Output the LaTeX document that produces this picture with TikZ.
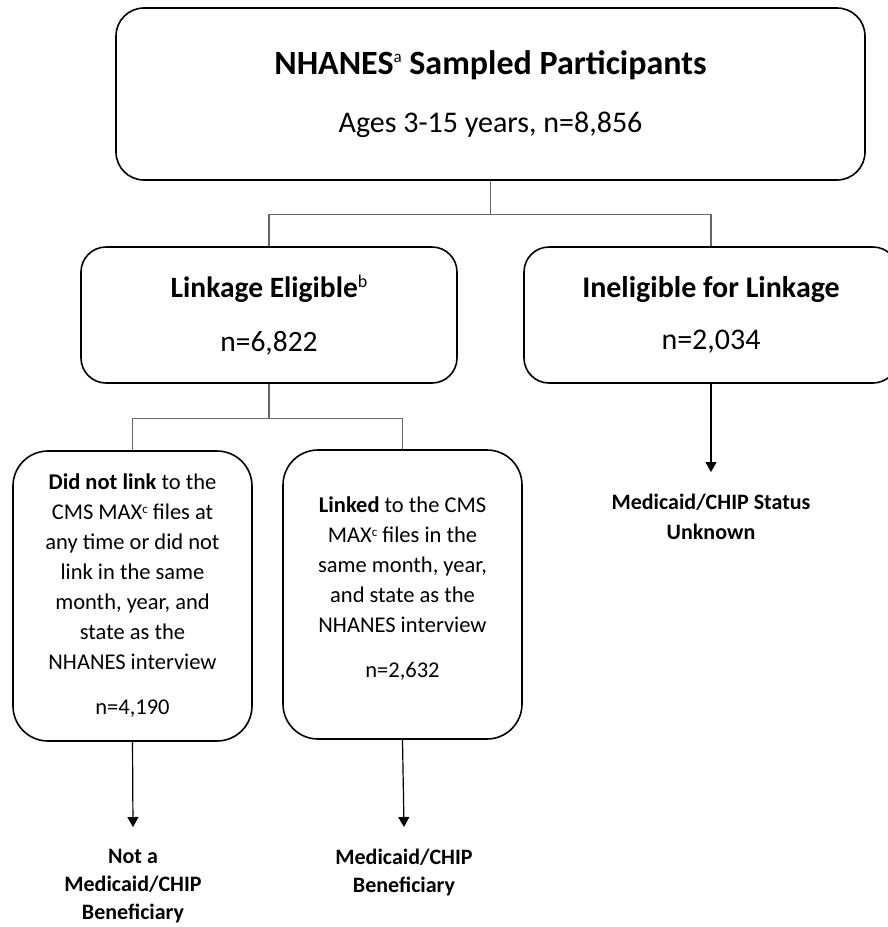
\documentclass[tikz,border=0pt]{standalone}
\usepackage{fontspec}
\setmainfont{Carlito}
\usetikzlibrary{arrows.meta}
\newcommand{\fnmark}[3]{\raisebox{#3}{\mdseries\fontsize{#2}{#2}\selectfont #1}}

\begin{document}
\begin{tikzpicture}[x=1pt,y=-1pt,>={Triangle[length=10pt,width=11pt]},
		box/.style={draw,line width=1.6pt,rounded corners=#1,inner sep=0pt,align=center},
		box/.default=25pt,
		link/.style={draw=black!60,line width=1.2pt},
		flow/.style={->,line width=1.2pt},
		outcome/.style={anchor=north,align=center,inner sep=0pt,font=\fontsize{22}{28}\selectfont\bfseries}]
				\useasboundingbox (0,0) rectangle (887,927);

				% boxes
				\node[box=28pt,minimum width=749pt,minimum height=172pt,font=\fontsize{30}{36}\selectfont] (sampled) at (490.5,94)
					{{\fontsize{34}{36}\selectfont\bfseries NHANES\fnmark{a}{17}{12pt} Sampled Participants}\\[22pt]Ages 3-15 years, n=8,856};
				\node[box,minimum width=376pt,minimum height=136pt,font=\fontsize{29.5}{36}\selectfont] (eligible) at (269,315)
					{{\bfseries Linkage Eligible\fnmark{b}{18}{10pt}}\\[18pt]n=6,822};
				\node[box,minimum width=374pt,minimum height=136pt,font=\fontsize{30}{36}\selectfont] (ineligible) at (711,315)
					{{\bfseries Ineligible for Linkage}\\[16pt]n=2,034};
				\node[box=35pt,minimum width=239pt,minimum height=290pt,font=\fontsize{22.5}{30}\selectfont] (nolink) at (132.5,596)
					{{\bfseries Did not link} to the\\CMS MAX\fnmark{c}{13}{6pt} files at\\any time or did not\\link in the same\\month, year, and\\state as the\\NHANES interview\\[15pt]n=4,190};
				\node[box=35pt,minimum width=239pt,minimum height=289pt,font=\fontsize{22.5}{30}\selectfont] (linked) at (402.5,594.5)
					{{\bfseries Linked} to the CMS\\MAX\fnmark{c}{13}{6pt} files in the\\same month, year,\\and state as the\\NHANES interview\\[15pt]n=2,632\\[-16pt]\mbox{}};

				% outcomes
				\node[outcome] (unknown) at (711,494) {Medicaid/CHIP Status\\[2pt]Unknown};
				\node[outcome] (notbenef) at (133,849) {Not a\\Medicaid/CHIP\\Beneficiary};
				\node[outcome] (benef) at (404,849) {Medicaid/CHIP\\Beneficiary};

				% connectors
				\draw[link] (sampled.south) -- ++(0,34) coordinate (split) -| (eligible.north);
				\draw[link] (split) -| (ineligible.north);
				\draw[link] (eligible.south) -- ++(0,35) coordinate (split2) -| (nolink.north);
				\draw[link] (split2) -| (linked.north);

				\draw[flow] (ineligible.south) -- ([yshift=22pt]unknown.north);
				\draw[flow] (nolink.south) -- ([yshift=22pt]notbenef.north);
				\draw[flow] (linked.south) -- ([yshift=22pt]benef.north);
			\end{tikzpicture}
\end{document}
